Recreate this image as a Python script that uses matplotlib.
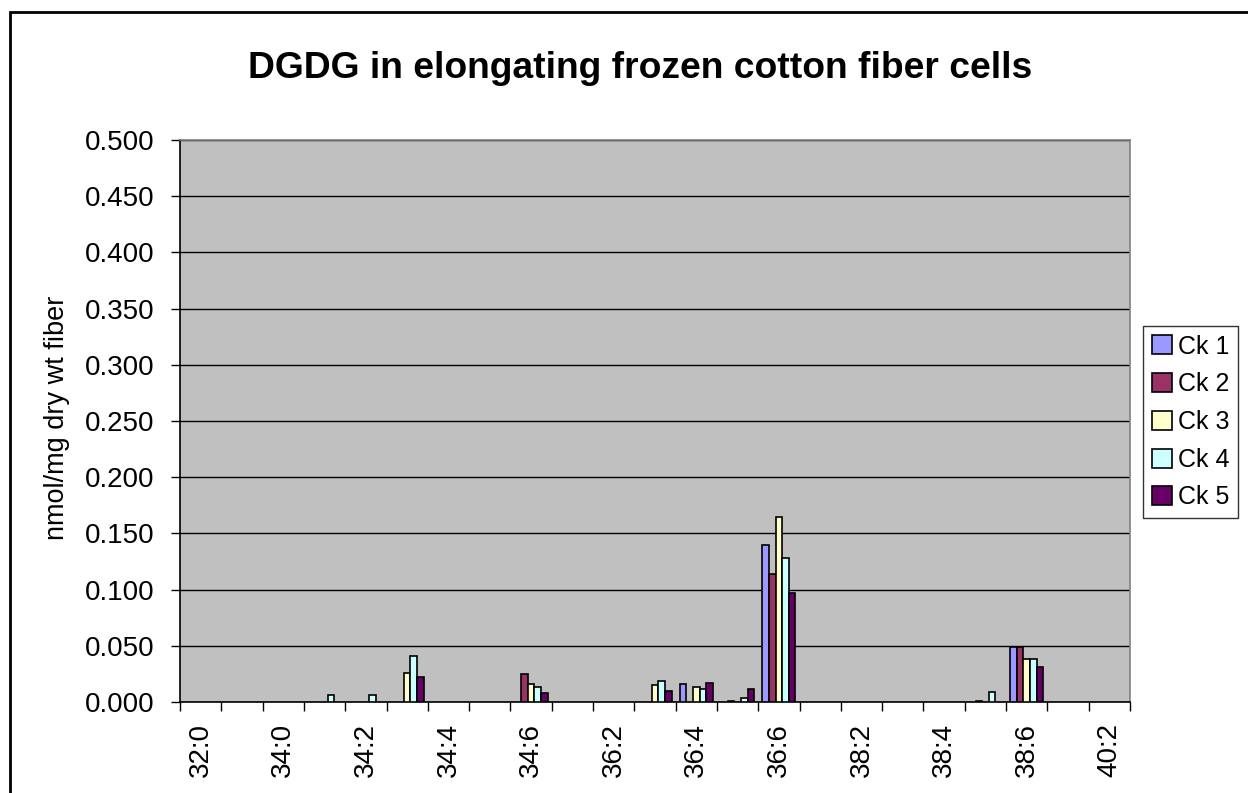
import matplotlib
matplotlib.use('Agg')
import matplotlib.pyplot as plt
import numpy as np
from matplotlib.patches import Rectangle

plt.rcParams['font.family'] = ['Liberation Sans', 'DejaVu Sans']

categories = ['32:0', '32:1', '34:0', '34:1', '34:2', '34:3', '34:4', '34:5', '34:6',
              '36:1', '36:2', '36:3', '36:4', '36:5', '36:6', '38:1', '38:2', '38:3',
              '38:4', '38:5', '38:6', '40:1', '40:2']
series_names = ['Ck 1', 'Ck 2', 'Ck 3', 'Ck 4', 'Ck 5']

ck1 = [0, 0, 0, 0, 0, 0, 0, 0, 0, 0, 0, 0, 0.016, 0, 0.140, 0, 0, 0, 0, 0, 0.049, 0, 0]
ck2 = [0, 0, 0, 0, 0, 0, 0, 0, 0.025, 0, 0, 0, 0, 0.001, 0.114, 0, 0, 0, 0, 0.001, 0.049, 0, 0]
ck3 = [0, 0, 0, 0, 0, 0.026, 0, 0, 0.016, 0, 0, 0.015, 0.013, 0, 0.165, 0, 0, 0, 0, 0, 0.038, 0, 0]
ck4 = [0, 0, 0, 0.006, 0.006, 0.041, 0, 0, 0.013, 0, 0, 0.019, 0.012, 0.004, 0.128, 0, 0, 0, 0, 0.009, 0.038, 0, 0]
ck5 = [0, 0, 0, 0, 0, 0.022, 0, 0, 0.008, 0, 0, 0.010, 0.017, 0.012, 0.097, 0, 0, 0, 0, 0, 0.031, 0, 0]

colors = ['#9999FF', '#993366', '#FFFFCC', '#CCFFFF', '#660066']

fig = plt.figure(figsize=(12.48, 7.93), dpi=100)
ax = fig.add_axes([180/1248, 1-702/793, 950/1248, 562/793])
ax.set_facecolor('#C0C0C0')

x = np.arange(len(categories))
w = 0.16
for i, (vals, name, c) in enumerate(zip([ck1, ck2, ck3, ck4, ck5], series_names, colors)):
    v = np.array(vals)
    m = v > 0
    ax.bar(x[m] + (i - 2) * w, v[m], w, color=c, edgecolor='black', linewidth=1.2,
           label=name, zorder=3)

ax.set_xlim(-0.5, len(categories) - 0.5)
ax.set_ylim(0, 0.5)
ax.set_yticks(np.arange(0, 0.501, 0.05))
ax.yaxis.set_major_formatter(matplotlib.ticker.FormatStrFormatter('%.3f'))
ax.grid(axis='y', color='black', linewidth=1, zorder=1)
ax.tick_params(axis='y', labelsize=20, length=6.5, width=1, pad=12)

# tick marks at category boundaries, labels on every other category
ax.set_xticks(np.arange(-0.5, len(categories), 1))
ax.set_xticklabels([])
ax.set_xticks(x[::2], minor=True)
ax.set_xticklabels(categories[::2], minor=True, rotation=90, fontsize=20)
ax.tick_params(axis='x', which='major', length=6.5, width=1)
ax.tick_params(axis='x', which='minor', length=0, pad=15)

for s in ['left', 'bottom']:
    ax.spines[s].set_color('black')
    ax.spines[s].set_linewidth(1.2)
for s in ['top', 'right']:
    ax.spines[s].set_color('#808080')
    ax.spines[s].set_linewidth(1.2)

fig.text(0.513, 1-68/793, 'DGDG in elongating frozen cotton fiber cells',
         ha='center', va='center', fontsize=26.8, fontweight='bold')
fig.text(57/1248, 1-418/793, 'nmol/mg dry wt fiber', rotation=90,
         ha='center', va='center', fontsize=19.5)

leg = fig.legend(loc='center left', bbox_to_anchor=(1143/1248, 1-422/793),
                 fontsize=18, frameon=True, fancybox=False, edgecolor='black',
                 handlelength=0.8, handleheight=0.8, handletextpad=0.25,
                 labelspacing=0.55, borderpad=0.35, borderaxespad=0)
leg.get_frame().set_linewidth(1)

fig.patches.append(Rectangle((10/1248, -0.1), 1.2, 1-12/793+0.1,
                             transform=fig.transFigure, fill=False,
                             edgecolor='black', linewidth=2))

fig.savefig('out.png', dpi=100)
